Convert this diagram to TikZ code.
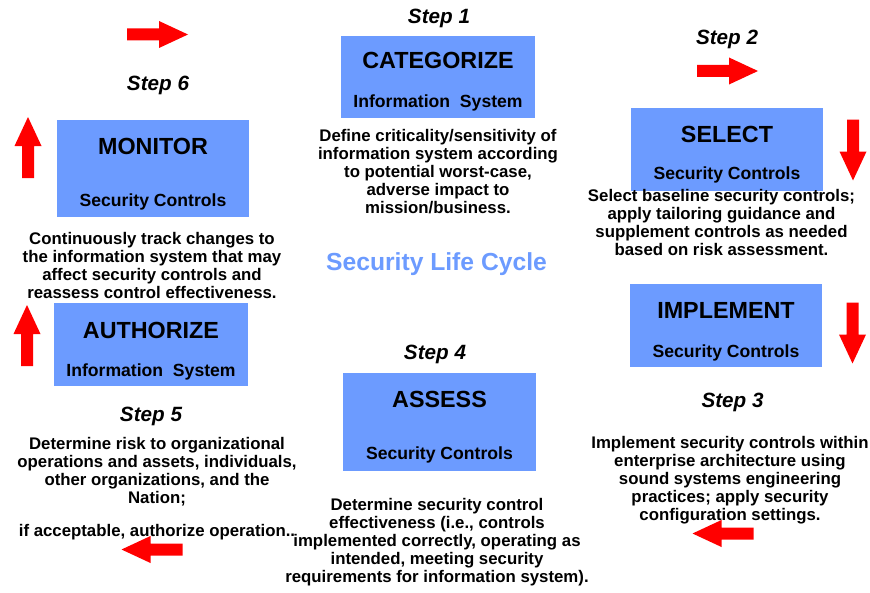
\documentclass[tikz,border=0pt]{standalone}
\usepackage{fontspec}
\setmainfont{Liberation Sans}
\definecolor{boxblue}{RGB}{108,155,255}
\tikzset{
  box/.style={fill=boxblue, inner sep=0pt},
  boxhead/.style={anchor=base, inner sep=0pt, font=\fontsize{17.5}{20}\selectfont\bfseries},
  boxsub/.style={anchor=base, inner sep=0pt, font=\fontsize{13.2}{15}\selectfont\bfseries},
  steplabel/.style={anchor=base, inner sep=0pt, font=\fontsize{15.5}{18}\selectfont\bfseries\itshape},
  desc/.style={anchor=base, inner sep=0pt, align=center, font=\fontsize{12.6}{13.5}\selectfont\bfseries},
  redarrow/.pic={\fill[red] (-30.5,-6) -- (1.5,-6) -- (1.5,-13.5) -- (30.5,0) -- (1.5,13.5) -- (1.5,6) -- (-30.5,6) -- cycle;}
}
\begin{document}
\begin{tikzpicture}[x=0.75pt,y=0.75pt,yscale=-1,xscale=1]
%set diagram left start at 0, and has height of 592
\useasboundingbox (0,0) rectangle (870,592);

%Shape: Rectangles
\node [box, minimum width=145.5pt, minimum height=61.5pt] (categorize) at (438,77) {};
\node [box, minimum width=144pt, minimum height=72.75pt] (monitor) at (153,168.5) {};
\node [box, minimum width=144pt, minimum height=62.25pt] (select) at (727,149.5) {};
\node [box, minimum width=144pt, minimum height=62.25pt] (implement) at (726,325.5) {};
\node [box, minimum width=145.5pt, minimum height=62.25pt] (authorize) at (151,344.5) {};
\node [box, minimum width=144.75pt, minimum height=73.5pt] (assess) at (439.5,422) {};

% Box texts
\node [boxhead] (categorizeT) at (438,69) {CATEGORIZE};
\node [boxsub] (categorizeS) at (438,107) {Information\ \ System};
\node [boxhead] (monitorT) at (153,154) {MONITOR};
\node [boxsub] (monitorS) at (153,206) {Security Controls};
\node [boxhead] (selectT) at (727,142) {SELECT};
\node [boxsub] (selectS) at (727,179) {Security Controls};
\node [boxhead] (implementT) at (726,318) {IMPLEMENT};
\node [boxsub] (implementS) at (726,357) {Security Controls};
\node [boxhead] (authorizeT) at (151,338) {AUTHORIZE};
\node [boxsub] (authorizeS) at (151,376) {Information\ \ System};
\node [boxhead] (assessT) at (439.5,407) {ASSESS};
\node [boxsub] (assessS) at (439.5,459) {Security Controls};

% Step labels
\node [steplabel] (step1) at (439,24) {Step 1};
\node [steplabel] (step2) at (727,45) {Step 2};
\node [steplabel] (step3) at (732.5,407) {Step 3};
\node [steplabel] (step4) at (435,359) {Step 4};
\node [steplabel] (step5) at (151,421.5) {Step 5};
\node [steplabel] (step6) at (158,90) {Step 6};

% Text Node (base = last line)
\node [desc] (categorizeD) at (438,213) {Define criticality/sensitivity of\\information system according\\to potential worst-case,\\adverse impact to\\mission/business.};
% Text Node
\node [desc] (selectD) at (721.5,255) {Select baseline security controls;\\apply tailoring guidance and\\supplement controls as needed\\based on risk assessment.};
% Text Node
\node [desc] (implementD) at (730,520) {Implement security controls within\\enterprise architecture using\\sound systems engineering\\practices; apply security\\configuration settings.};
% Text Node
\node [desc] (assessD) at (437,582) {Determine security control\\effectiveness (i.e., controls\\implemented correctly, operating as\\intended, meeting security\\requirements for information system).};
% Text Node
\node [desc] (authorizeD) at (157,536) {Determine risk to organizational\\operations and assets, individuals,\\other organizations, and the\\Nation;\\[11.25pt]if acceptable, authorize operation..};
% Text Node
\node [desc] (monitorD) at (152,298) {Continuously track changes to\\the information system that may\\affect security controls and\\reassess control effectiveness.};

% Title
\node [anchor=base, inner sep=0pt, text=boxblue, font=\fontsize{18.5}{22}\selectfont\bfseries] (cycle) at (436.5,270) {Security Life Cycle};

%Shape: Block Arrows
\pic at (157.5,34.5) {redarrow};
\pic at (727.5,71) {redarrow};
\pic [rotate=-90] at (853,150) {redarrow};
\pic [rotate=-90] at (852.5,333) {redarrow};
\pic [rotate=180] at (723,533.5) {redarrow};
\pic [rotate=180] at (152,549.5) {redarrow};
\pic [rotate=90] at (27,335.5) {redarrow};
\pic [rotate=90] at (28,147.5) {redarrow};

\end{tikzpicture}
\end{document}
